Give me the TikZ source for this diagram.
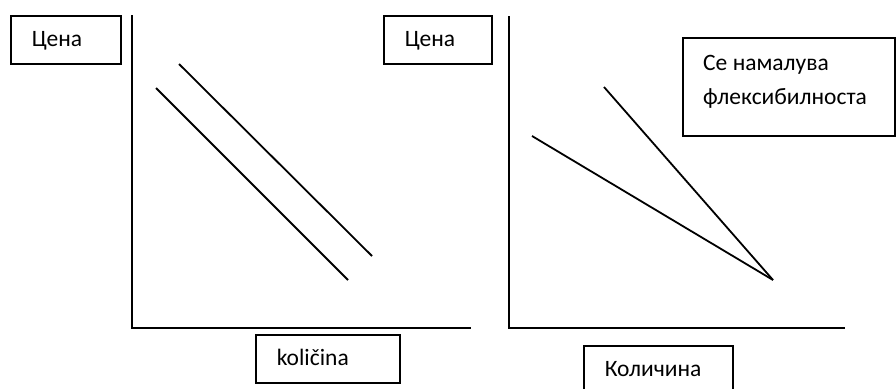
\documentclass[tikz,border=0pt]{standalone}
\usepackage{fontspec}
\setmainfont{Carlito}
\usetikzlibrary{calc}
\begin{document}
\begin{tikzpicture}[x=1pt,y=-1pt,
  every node/.style={font=\fontsize{23.5}{34}\selectfont},
  frame/.style={draw, line width=1.6pt, anchor=north west, inner xsep=21pt,
    inner ysep=0pt, align=left, text height=14pt, text depth=0pt},
  axis/.style={line width=1.8pt},
  curve/.style={line width=1.8pt}]
\useasboundingbox (0,0) rectangle (896,388);
\clip (0,0) rectangle (896,388);
\fill[white] (0,0) rectangle (896,388);

% labels on the left chart
\node[frame, minimum width=110pt, minimum height=48pt, text width=68pt] (cena1) at (10,15) {Цена};
\node[frame, minimum width=144pt, minimum height=48pt, text width=102pt] (kol1) at (255,334) {količina};

% labels on the right chart
\node[frame, minimum width=108pt, minimum height=48pt, text width=66pt] (cena2) at (383,15) {Цена};
\node[frame, minimum width=149pt, minimum height=48pt, text width=107pt] (kol2) at (583,345) {Количина};
\node[frame, minimum width=212pt, minimum height=98pt] (flex) at (682,37) {};
% the base anchor of this two-line node sits on its last line
\node[anchor=base west, align=left, inner sep=0pt] (flextext) at ($(flex.north west)+(21,67.5)$) {Се намалува\\флексибилноста};

% left axes
\coordinate (lo) at (132,328);
\coordinate (ltop) at (132,15);
\coordinate (lend) at (471,328);
\draw[axis] (ltop) -- (lo) -- (lend);

% right axes
\coordinate (ro) at (509,328);
\coordinate (rtop) at (509,16);
\coordinate (rend) at (845,328);
\draw[axis] (rtop) -- (ro) -- (rend);

% two parallel lines
\coordinate (a1) at (156,88);
\coordinate (a2) at (348,280);
\coordinate (b1) at (179,64);
\coordinate (b2) at (372,256);
\draw[curve] (a1) -- (a2);
\draw[curve] (b1) -- (b2);

% two lines meeting at one point
\coordinate (c1) at (532,136);
\coordinate (d1) at (604,87);
\coordinate (meet) at (773,280);
\draw[curve] (c1) -- (meet);
\draw[curve] (d1) -- (meet);
\end{tikzpicture}
\end{document}
